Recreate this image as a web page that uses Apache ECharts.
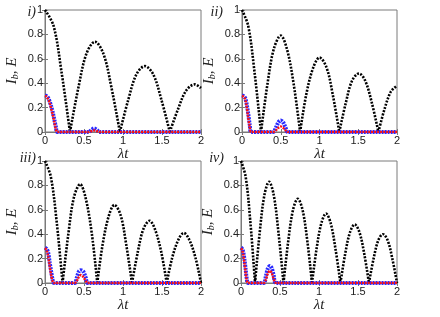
<!DOCTYPE html>
<html><head><meta charset="utf-8">
<script src="https://cdn.jsdelivr.net/npm/echarts@6/dist/echarts.min.js"></script>
<style>html,body{margin:0;padding:0;background:#fff}#c{width:440px;height:317px}</style>
</head><body><div id="c"></div>
<script>
// x ticks and y ticks
const xTicks = [0, 0.5, 1, 1.5, 2];
const yTicks = [0, 0.2, 0.4, 0.6, 0.8, 1];
const panelNames = ['i)', 'ii)', 'iii)', 'iv)'];

// Black dotted curve E(t), arches separated by null
const eT_i = [0,0.11,0.21,0.32, null, 0.32,0.43,0.53,0.64,0.75,0.85,0.96, null, 0.96,1.07,1.17,1.28,1.39,1.49,1.60, null, 1.60,1.71,1.81,1.92,2.0];
const eV_i = [1,0.87,0.50,0, null, 0,0.37,0.64,0.74,0.64,0.37,0, null, 0,0.27,0.47,0.54,0.47,0.27,0, null, 0,0.195,0.34,0.39,0.36];

const eT_ii = [0,0.08,0.16,0.245, null, 0.245,0.33,0.41,0.50,0.58,0.665,0.75, null, 0.75,0.83,0.92,1.0,1.09,1.17,1.255, null, 1.255,1.34,1.42,1.51,1.59,1.675,1.76, null, 1.76,1.84,1.92,2.0];
const eV_ii = [1,0.87,0.50,0, null, 0,0.40,0.68,0.79,0.68,0.40,0, null, 0,0.31,0.53,0.61,0.53,0.31,0, null, 0,0.24,0.42,0.48,0.42,0.24,0, null, 0,0.19,0.33,0.38];

const eT_iii = [0,0.075,0.15,0.225, null, 0.225,0.30,0.37,0.45,0.52,0.60,0.67, null, 0.67,0.74,0.82,0.89,0.97,1.04,1.115, null, 1.115,1.19,1.26,1.34,1.41,1.49,1.56, null, 1.56,1.63,1.71,1.78,1.85,1.93,2.0];
const eV_iii = [1,0.87,0.50,0, null, 0,0.405,0.70,0.81,0.70,0.405,0, null, 0,0.32,0.555,0.64,0.555,0.32,0, null, 0,0.255,0.44,0.51,0.44,0.255,0, null, 0,0.205,0.355,0.41,0.355,0.205,0];

const eT_iv = [0,0.06,0.12,0.18, null, 0.18,0.24,0.30,0.36,0.42,0.48,0.545, null, 0.545,0.606,0.667,0.728,0.789,0.85,0.91, null, 0.91,0.97,1.03,1.09,1.15,1.21,1.275, null, 1.275,1.336,1.397,1.458,1.519,1.58,1.64, null, 1.64,1.70,1.76,1.82,1.88,1.94,2.0];
const eV_iv = [1,0.87,0.50,0, null, 0,0.415,0.72,0.83,0.72,0.415,0, null, 0,0.345,0.60,0.69,0.60,0.345,0, null, 0,0.285,0.49,0.57,0.49,0.285,0, null, 0,0.24,0.415,0.48,0.415,0.24,0, null, 0,0.20,0.35,0.40,0.35,0.20,0];

// Blue (I_b) and red curves
const bT_i = [0,0.02,0.04,0.06,0.08,0.10,0.12,0.14,0.16, 0.56,0.60,0.63,0.66,0.70, 2.0];
const blue_i = [0.30,0.295,0.28,0.25,0.21,0.16,0.10,0.04,0, 0,0.02,0.03,0.02,0, 0];
const red_i  = [0.295,0.29,0.27,0.24,0.19,0.14,0.08,0.02,0, 0,0.008,0.012,0.008,0, 0];

const bT_ii = [0,0.02,0.04,0.06,0.08,0.10,0.12, 0.40,0.44,0.47,0.50,0.53,0.56,0.59, 2.0];
const blue_ii = [0.30,0.295,0.28,0.23,0.15,0.06,0, 0,0.04,0.08,0.095,0.08,0.04,0, 0];
const red_ii  = [0.295,0.29,0.27,0.21,0.12,0.04,0, 0,0.015,0.035,0.045,0.035,0.015,0, 0];

const bT_iii = [0,0.02,0.04,0.06,0.08,0.10,0.115, 0.38,0.41,0.435,0.46,0.49,0.52,0.55, 2.0];
const blue_iii = [0.29,0.28,0.25,0.17,0.09,0.02,0, 0,0.05,0.095,0.105,0.095,0.05,0, 0];
const red_iii  = [0.285,0.27,0.22,0.14,0.06,0.01,0, 0,0.02,0.05,0.065,0.05,0.02,0, 0];

const bT_iv = [0,0.015,0.03,0.045,0.06,0.075,0.09, 0.29,0.32,0.345,0.37,0.395,0.42,0.45, 2.0];
const blue_iv = [0.29,0.28,0.25,0.19,0.11,0.03,0, 0,0.06,0.12,0.14,0.12,0.06,0, 0];
const red_iv  = [0.285,0.27,0.23,0.16,0.08,0.02,0, 0,0.03,0.08,0.10,0.08,0.03,0, 0];

const panels = [
  {eT: eT_i, eV: eV_i, bT: bT_i, blue: blue_i, red: red_i},
  {eT: eT_ii, eV: eV_ii, bT: bT_ii, blue: blue_ii, red: red_ii},
  {eT: eT_iii, eV: eV_iii, bT: bT_iii, blue: blue_iii, red: red_iii},
  {eT: eT_iv, eV: eV_iv, bT: bT_iv, blue: blue_iv, red: red_iv}
];

const gridPos = [
  {left: 45, top: 10, width: 156, height: 122},
  {left: 242, top: 10, width: 155, height: 122},
  {left: 45, top: 161, width: 156, height: 122},
  {left: 241, top: 161, width: 156, height: 122}
];
const labelPos = [[36, 12], [223, 12], [36, 158], [224, 158]];

const axisCol = '#7a7a7a';
const lblStyle = {color: '#222', fontSize: 11, fontFamily: 'Liberation Sans, Arial, sans-serif'};
const fmt = v => String(Math.round(v * 10) / 10);

const grid = [], xAxis = [], yAxis = [], series = [], graphic = [];
panels.forEach((p, k) => {
  grid.push(Object.assign({show: true, borderColor: axisCol, borderWidth: 1, backgroundColor: 'transparent'}, gridPos[k]));
  xAxis.push({
    type: 'value', gridIndex: k, min: xTicks[0], max: xTicks[xTicks.length - 1], interval: 0.5,
    axisLine: {show: true, lineStyle: {color: axisCol}},
    axisTick: {show: true, inside: true, length: 3, lineStyle: {color: axisCol}},
    splitLine: {show: false},
    axisLabel: Object.assign({margin: 3, formatter: fmt}, lblStyle),
    name: 'λt', nameLocation: 'middle', nameGap: 14,
    nameTextStyle: {fontFamily: 'Liberation Serif, Times New Roman, serif', fontStyle: 'italic', fontSize: 15, color: '#222'}
  });
  xAxis.push({
    type: 'value', gridIndex: k, position: 'top', min: 0, max: 2, interval: 0.5,
    axisLine: {show: false}, axisLabel: {show: false}, splitLine: {show: false},
    axisTick: {show: true, inside: true, length: 3, lineStyle: {color: axisCol}}
  });
  yAxis.push({
    type: 'value', gridIndex: k, min: yTicks[0], max: yTicks[yTicks.length - 1], interval: 0.2,
    axisLine: {show: true, lineStyle: {color: axisCol}},
    axisTick: {show: true, inside: true, length: 3, lineStyle: {color: axisCol}},
    splitLine: {show: false},
    axisLabel: Object.assign({margin: 2, formatter: fmt}, lblStyle),
    name: '{i|I}{s|b}{i|, E}', nameLocation: 'middle', nameGap: 25, nameRotate: 90,
    nameTextStyle: {
      rich: {
        i: {fontFamily: 'Liberation Serif, Times New Roman, serif', fontStyle: 'italic', fontSize: 15, color: '#222'},
        s: {fontFamily: 'Liberation Serif, Times New Roman, serif', fontStyle: 'italic', fontSize: 10, color: '#222', padding: [6, 0, 0, 0]}
      }
    }
  });
  yAxis.push({
    type: 'value', gridIndex: k, position: 'right', min: 0, max: 1, interval: 0.2,
    axisLine: {show: false}, axisLabel: {show: false}, splitLine: {show: false},
    axisTick: {show: true, inside: true, length: 3, lineStyle: {color: axisCol}}
  });
  const eData = p.eT.map((t, i) => t === null ? [p.eT[i - 1], '-'] : [t, p.eV[i]]);
  series.push({
    type: 'line', xAxisIndex: 2 * k, yAxisIndex: 2 * k, data: eData, smooth: 0.35,
    showSymbol: false, connectNulls: false, silent: true,
    lineStyle: {color: '#000', width: 2.6, type: [2, 1.4], cap: 'butt'}, z: 2
  });
  series.push({
    type: 'line', xAxisIndex: 2 * k, yAxisIndex: 2 * k, data: p.bT.map((t, i) => [t, p.blue[i]]), smooth: 0.3,
    showSymbol: false, silent: true,
    lineStyle: {color: '#2a2aff', width: 4, type: [2, 1], cap: 'butt'}, z: 3
  });
  series.push({
    type: 'line', xAxisIndex: 2 * k, yAxisIndex: 2 * k, data: p.bT.map((t, i) => [t, p.red[i]]), smooth: 0.3,
    showSymbol: false, silent: true,
    lineStyle: {color: '#ff1010', width: 2.4, type: [2, 1], cap: 'butt'}, z: 4
  });
  graphic.push({
    type: 'text', x: labelPos[k][0], y: labelPos[k][1],
    style: {text: panelNames[k], align: 'right', verticalAlign: 'middle',
      font: 'italic 14px "Liberation Serif", "Times New Roman", serif', fill: '#222'}
  });
});

const chart = echarts.init(document.getElementById('c'), null, {renderer: 'canvas'});
chart.setOption({animation: false, grid, xAxis, yAxis, series, graphic});
</script>
</body></html>
